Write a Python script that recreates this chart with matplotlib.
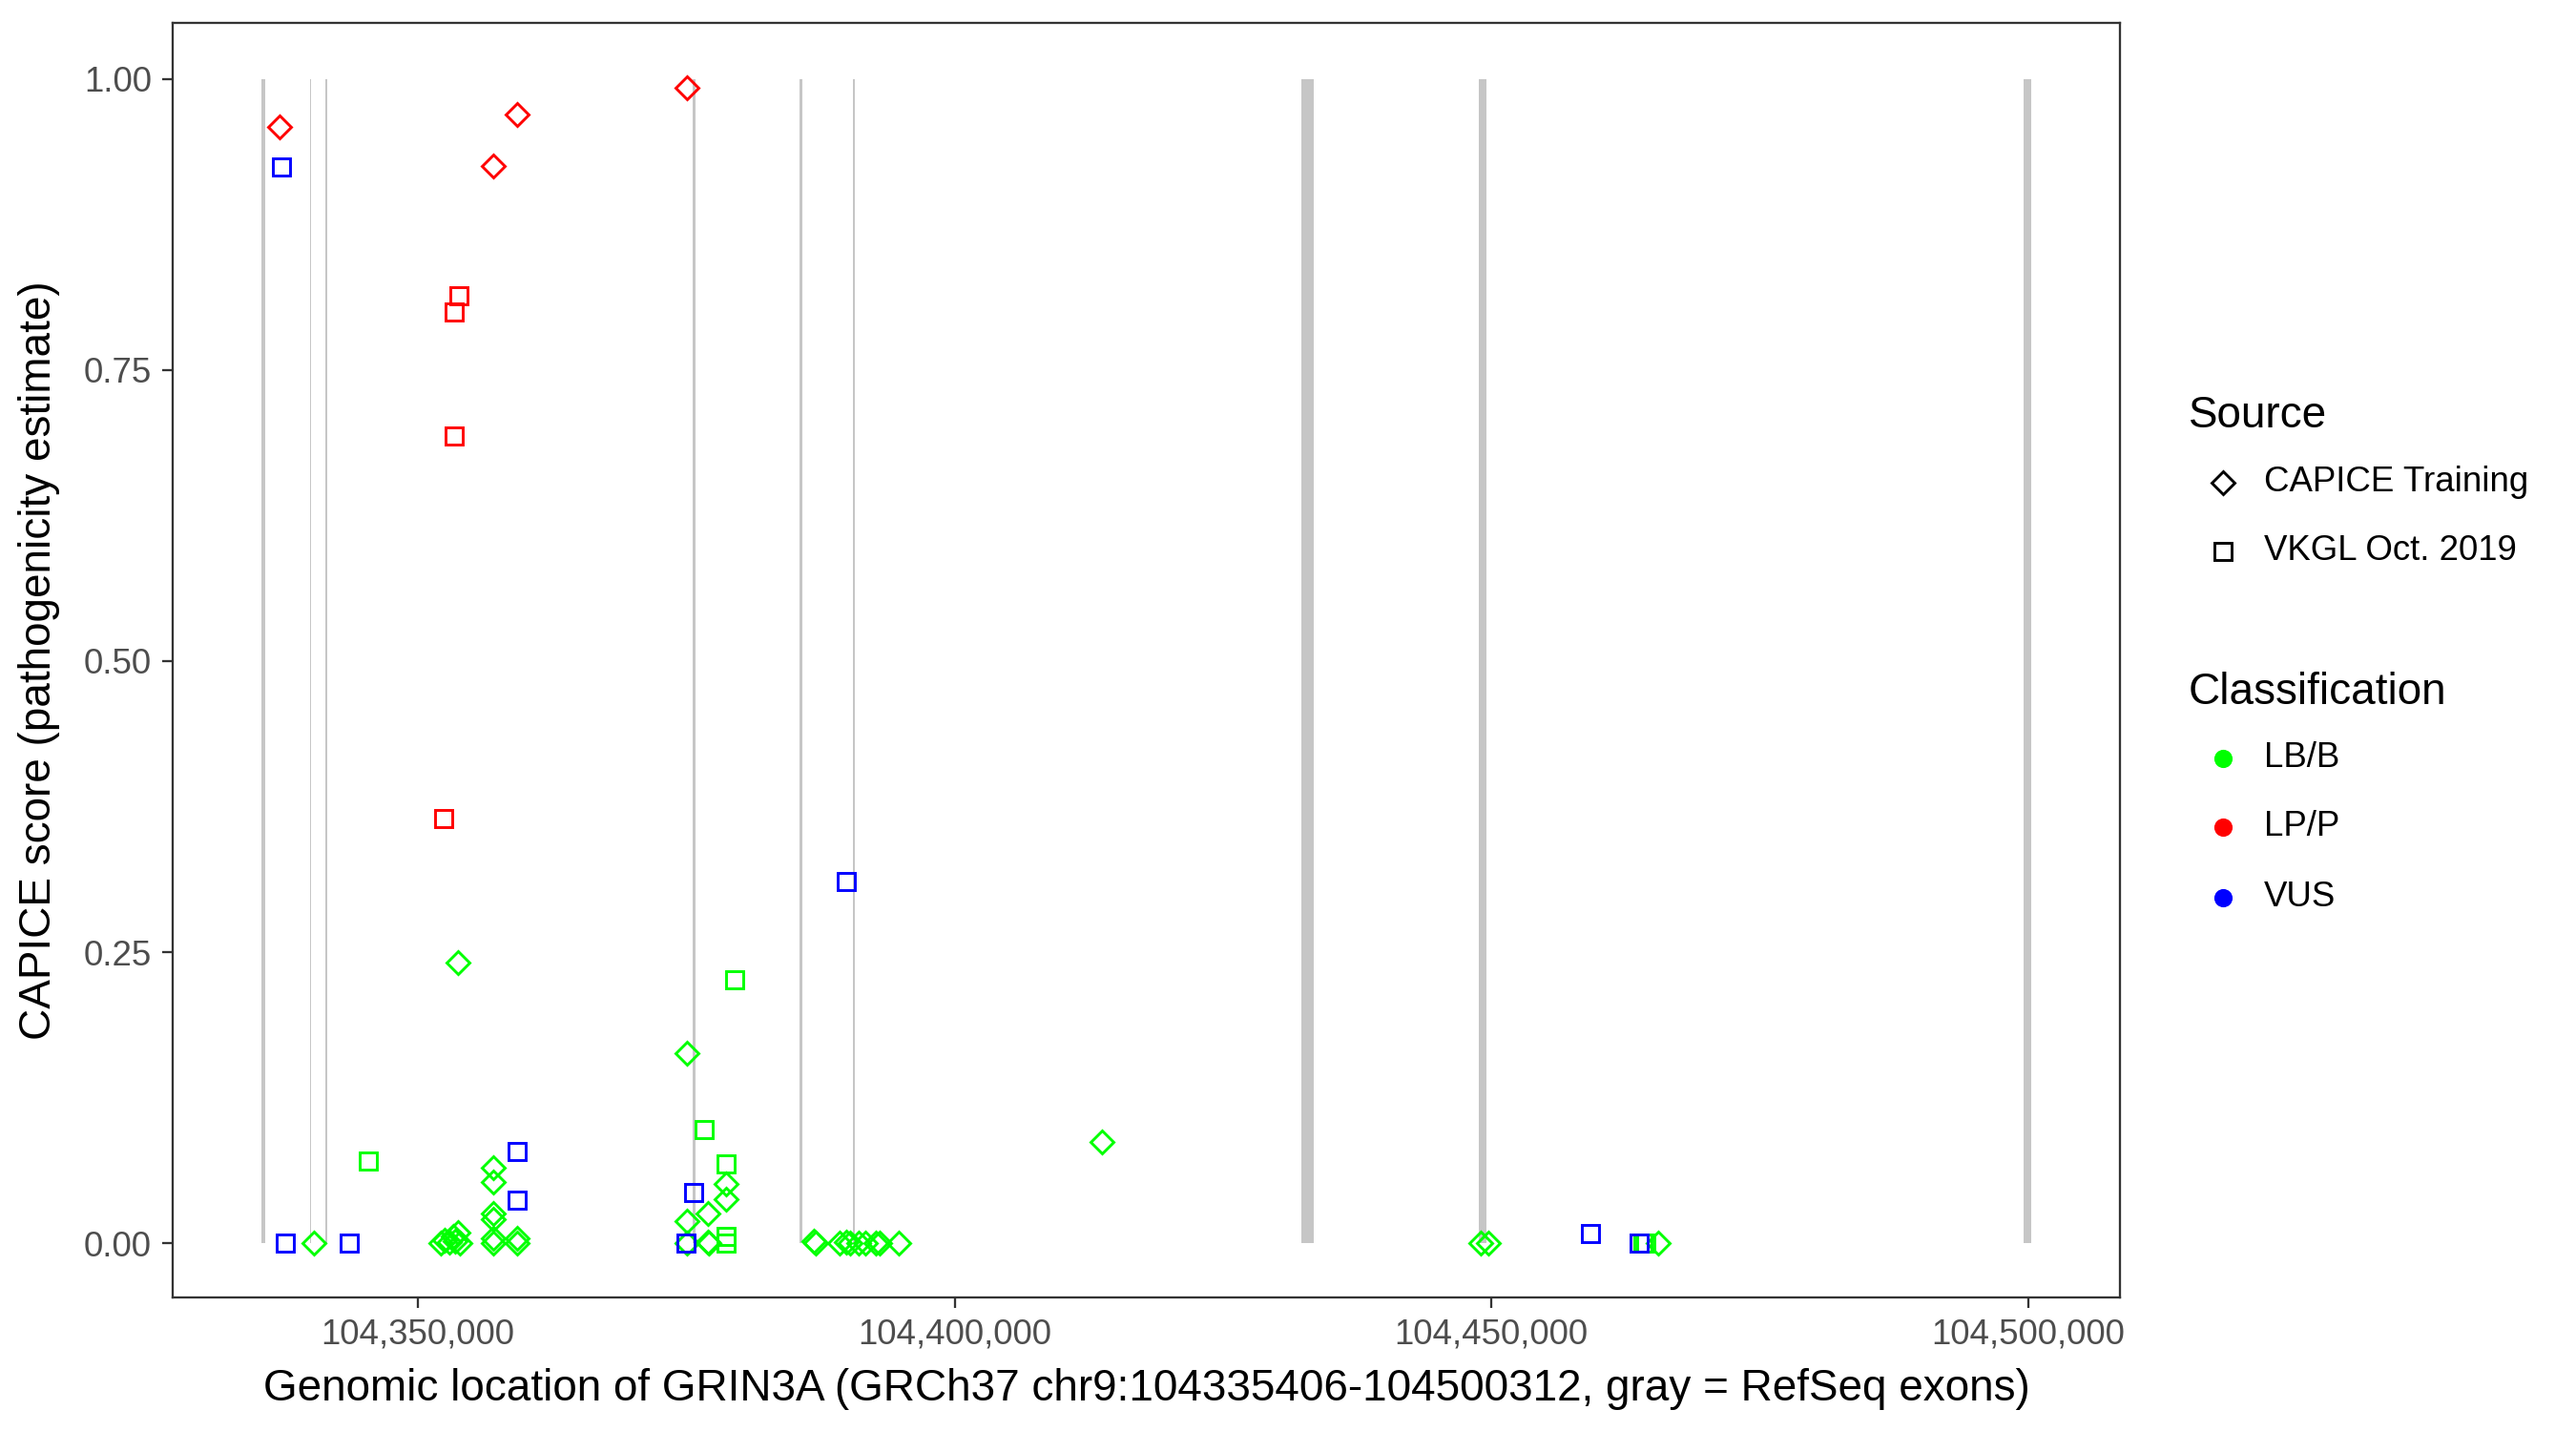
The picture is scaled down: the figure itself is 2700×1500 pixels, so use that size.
import matplotlib.pyplot as plt
from matplotlib.lines import Line2D
from matplotlib.ticker import FuncFormatter

plt.rcParams['font.family'] = ['Liberation Sans', 'DejaVu Sans']

gene_start = 104335406
gene_end = 104500312

# RefSeq exons (gray bars)
exon_start = [104335406, 104339940, 104341350, 104375600, 104385550, 104390540,
              104432290, 104448836, 104499569]
exon_end = [104335830, 104340090, 104341590, 104375840, 104385790, 104390690,
            104433480, 104449574, 104500312]

# variants: position, CAPICE score, source, classification
position = [
    # CAPICE training, LB/B
    104340300, 104353769, 104352100, 104352500, 104352900, 104353300, 104353700,
    104353900, 104353500, 104356995, 104356995, 104356995, 104356995, 104356995,
    104356995, 104359217, 104359217, 104375065, 104375065, 104375065, 104376993,
    104376993, 104377100, 104378683, 104378683, 104386912, 104387100, 104389300,
    104389880, 104390300, 104391064, 104391659, 104392690, 104392992, 104394770,
    104413768, 104448986, 104449724, 104465571,
    # CAPICE training, LP/P
    104337139, 104356986, 104359282, 104375046,
    # VKGL, LB/B
    104345352, 104376692, 104378683, 104378683, 104378683, 104379473, 104464096,
    104464400,
    # VKGL, LP/P
    104353804, 104353404, 104353404, 104352373,
    # VKGL, VUS
    104337335, 104337699, 104343574, 104359217, 104359217, 104389880, 104375714,
    104375003, 104459206, 104463800,
]
score = [
    0.0, 0.241, 0.0, 0.003, 0.001, 0.006, 0.009,
    0.0, 0.002, 0.065, 0.053, 0.026, 0.021, 0.004,
    0.0, 0.004, 0.0, 0.163, 0.019, 0.0, 0.026,
    0.001, 0.0, 0.051, 0.038, 0.002, 0.0, 0.0,
    0.001, 0.0, 0.0, 0.0, 0.0, 0.0, 0.0,
    0.087, 0.0, 0.0, 0.0,
    0.959, 0.925, 0.969, 0.992,
    0.071, 0.098, 0.068, 0.006, 0.0, 0.226, 0.0,
    0.0,
    0.814, 0.80, 0.693, 0.365,
    0.924, 0.0, 0.0, 0.079, 0.037, 0.311, 0.044,
    0.0, 0.0085, 0.0,
]
source = (['CAPICE Training'] * 43) + (['VKGL Oct. 2019'] * 22)
classification = (['LB/B'] * 39) + (['LP/P'] * 4) + (['LB/B'] * 8) + (['LP/P'] * 4) + (['VUS'] * 10)

class_colors = {'LB/B': '#00FF00', 'LP/P': '#FF0000', 'VUS': '#0000FF'}
source_markers = {'CAPICE Training': 'D', 'VKGL Oct. 2019': 's'}
source_ms = {'CAPICE Training': 4.2, 'VKGL Oct. 2019': 4.4}

fig = plt.figure(figsize=(9, 5), dpi=300)
ax = fig.add_axes([0.067, 0.0933, 0.823 - 0.067, 0.984 - 0.0933])

ax.bar(exon_start, [1.0] * len(exon_start),
       width=[e - s for s, e in zip(exon_start, exon_end)],
       bottom=0, align='edge', color='#c6c6c6', linewidth=0, zorder=1)

for cls in ['LB/B', 'LP/P', 'VUS']:
    for src in ['CAPICE Training', 'VKGL Oct. 2019']:
        xs = [p for p, s, c in zip(position, source, classification) if s == src and c == cls]
        ys = [v for v, s, c in zip(score, source, classification) if s == src and c == cls]
        if not xs:
            continue
        ax.plot(xs, ys, linestyle='none', marker=source_markers[src],
                ms=source_ms[src], mfc='none', mec=class_colors[cls], mew=0.7, zorder=3)

span = gene_end - gene_start
ax.set_xlim(gene_start - 0.05 * span, gene_end + 0.05 * span)
ax.set_ylim(-0.0465, 1.048)
ax.set_xticks([104350000, 104400000, 104450000, 104500000])
ax.xaxis.set_major_formatter(FuncFormatter(lambda v, p: f'{int(v):,}'))
ax.set_yticks([0, 0.25, 0.5, 0.75, 1.0])
ax.set_yticklabels(['0.00', '0.25', '0.50', '0.75', '1.00'])

for sp in ax.spines.values():
    sp.set_color('#333333')
    sp.set_linewidth(0.55)
ax.tick_params(axis='both', length=2.75, width=0.55, color='#333333',
               labelcolor='#4D4D4D', labelsize=8.8, pad=2.5)

ax.set_xlabel('Genomic location of GRIN3A (GRCh37 chr9:104335406-104500312, gray = RefSeq exons)',
              fontsize=11, labelpad=4)
ax.set_ylabel('CAPICE score (pathogenicity estimate)', fontsize=11, labelpad=6)

# legends
title_x = 0.8496
key_x = 0.863
text_x = 0.879
fig.text(title_x, 0.709, 'Source', fontsize=11, va='center', ha='left')
for y, src in zip([0.663, 0.615], ['CAPICE Training', 'VKGL Oct. 2019']):
    fig.add_artist(Line2D([key_x], [y], transform=fig.transFigure, linestyle='none',
                          marker=source_markers[src], ms=source_ms[src], mfc='none',
                          mec='black', mew=0.7))
    fig.text(text_x, y, src, fontsize=8.8, va='center', ha='left')

fig.text(title_x, 0.516, 'Classification', fontsize=11, va='center', ha='left')
for y, cls in zip([0.470, 0.422, 0.373], ['LB/B', 'LP/P', 'VUS']):
    fig.add_artist(Line2D([key_x], [y], transform=fig.transFigure, linestyle='none',
                          marker='o', ms=4.6, mfc=class_colors[cls], mec=class_colors[cls], mew=0))
    fig.text(text_x, y, cls, fontsize=8.8, va='center', ha='left')

fig.savefig('out.png', dpi=300, facecolor='white')
